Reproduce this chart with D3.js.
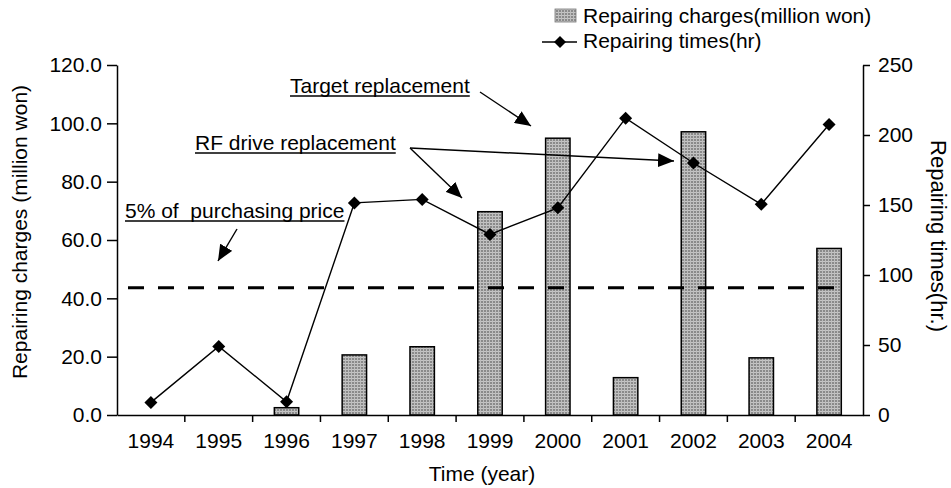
<!DOCTYPE html>
<html>
<head>
<meta charset="utf-8">
<script src="https://cdn.jsdelivr.net/npm/d3@7/dist/d3.min.js"></script>
<style>
  html, body { margin: 0; padding: 0; background: #fff; }
  svg { display: block; font-family: "Liberation Sans", Arial, sans-serif; }
</style>
</head>
<body>
<svg id="chart" width="951" height="488"></svg>
<script>
// ---------- data ----------
const categories = ["1994","1995","1996","1997","1998","1999","2000","2001","2002","2003","2004"];
const repairCharges = [0, 0, 2.5, 20.6, 23.4, 69.7, 94.9, 12.8, 97.1, 19.6, 57.1];   // million won (left axis)
const repairTimes   = [9, 49, 9.5, 151.5, 154, 129, 148, 212, 180, 150.5, 207.5];   // hr (right axis)
const leftTicks  = [0, 20, 40, 60, 80, 100, 120];
const rightTicks = [0, 50, 100, 150, 200, 250];
const purchaseThreshold = 43.6;   // 5% of purchasing price (million won)
const legendLabels = ["Repairing charges(million won)", "Repairing times(hr)"];

// ---------- layout ----------
const W = 951, H = 488;
const m = { l: 117, r: 863, t: 65, b: 415 };
const FS = 21;
const svg = d3.select("#chart");

const defs = svg.append("defs");
const pat = defs.append("pattern").attr("id", "tex").attr("patternUnits", "userSpaceOnUse")
  .attr("width", 3).attr("height", 3);
pat.append("rect").attr("width", 3).attr("height", 3).attr("fill", "#8a8a8a");
pat.append("rect").attr("width", 3).attr("height", 1).attr("fill", "#c6c6c6");
pat.append("rect").attr("width", 1).attr("height", 3).attr("fill", "#bdbdbd");

defs.append("marker").attr("id", "arr").attr("markerUnits", "userSpaceOnUse")
  .attr("viewBox", "0 0 16 14").attr("refX", 16).attr("refY", 7)
  .attr("markerWidth", 16).attr("markerHeight", 14).attr("orient", "auto")
  .append("path").attr("d", "M0,0 L16,7 L0,14 Z").attr("fill", "#000");

const x = d3.scaleBand().domain(categories).range([m.l, m.r]).padding(0);
const bw = x.bandwidth();
const yL = d3.scaleLinear().domain([0, 120]).range([m.b, m.t]);
const yR = d3.scaleLinear().domain([0, 250]).range([m.b, m.t]);
const barW = bw * 0.36;

// ---------- bars ----------
svg.append("g").selectAll("rect")
  .data(categories.map((c, i) => ({ c, v: repairCharges[i] })).filter(d => d.v > 0))
  .join("rect")
  .attr("x", d => x(d.c) + bw / 2 - barW / 2)
  .attr("y", d => yL(d.v))
  .attr("width", barW)
  .attr("height", d => yL(0) - yL(d.v))
  .attr("fill", "url(#tex)")
  .attr("stroke", "#000").attr("stroke-width", 1.5);

// ---------- dashed threshold ----------
svg.append("line")
  .attr("x1", m.l + 11).attr("x2", m.r - 25)
  .attr("y1", yL(purchaseThreshold)).attr("y2", yL(purchaseThreshold))
  .attr("stroke", "#000").attr("stroke-width", 3).attr("stroke-dasharray", "16,14");

// ---------- axes ----------
const axL = svg.append("g").attr("transform", `translate(${m.l},0)`)
  .call(d3.axisLeft(yL).tickValues(leftTicks).tickFormat(d3.format(".1f")).tickSize(10).tickSizeOuter(0).tickPadding(5));
const axR = svg.append("g").attr("transform", `translate(${m.r},0)`)
  .call(d3.axisRight(yR).tickValues(rightTicks).tickSize(7).tickSizeOuter(0).tickPadding(8));
const axB = svg.append("g").attr("transform", `translate(0,${m.b})`)
  .call(d3.axisBottom(x).tickSize(0).tickPadding(18));
[axL, axR, axB].forEach(g => {
  g.selectAll("text").attr("font-size", FS).attr("font-family", "Liberation Sans, Arial, sans-serif").attr("fill", "#000");
  g.selectAll("line,path").attr("stroke", "#000").attr("stroke-width", 1.5);
});
// category boundary ticks
svg.append("g").selectAll("line").data(categories.slice(1)).join("line")
  .attr("x1", d => x(d)).attr("x2", d => x(d))
  .attr("y1", m.b).attr("y2", m.b + 7)
  .attr("stroke", "#000").attr("stroke-width", 1.5);

// ---------- line + diamonds ----------
const pts = categories.map((c, i) => [x(c) + bw / 2, yR(repairTimes[i])]);
svg.append("path").attr("d", d3.line()(pts)).attr("fill", "none").attr("stroke", "#000").attr("stroke-width", 1.4);
const diamond = s => `M0,${-s} L${s},0 L0,${s} L${-s},0 Z`;
svg.append("g").selectAll("path").data(pts).join("path")
  .attr("d", diamond(6.5)).attr("transform", d => `translate(${d[0]},${d[1]})`).attr("fill", "#000");

// ---------- axis titles ----------
svg.append("text").attr("x", 482).attr("y", 481).attr("text-anchor", "middle")
  .attr("font-size", FS).text("Time (year)");
svg.append("text").attr("transform", "translate(27,232) rotate(-90)").attr("text-anchor", "middle")
  .attr("font-size", FS).text("Repairing charges (million won)");
svg.append("text").attr("transform", "translate(931,236) rotate(90)").attr("text-anchor", "middle")
  .attr("font-size", 22).text("Repairing times(hr.)");

// ---------- legend ----------
const lg = svg.append("g");
lg.append("rect").attr("x", 555).attr("y", 9).attr("width", 21).attr("height", 13)
  .attr("fill", "url(#tex)").attr("stroke", "#777").attr("stroke-width", 0.8);
lg.append("text").attr("x", 583).attr("y", 23).attr("font-size", FS).text(legendLabels[0]);
lg.append("line").attr("x1", 542).attr("x2", 577).attr("y1", 42).attr("y2", 42).attr("stroke", "#000").attr("stroke-width", 1.5);
lg.append("path").attr("d", diamond(6)).attr("transform", "translate(560,42)").attr("fill", "#000");
lg.append("text").attr("x", 583).attr("y", 48).attr("font-size", FS).text(legendLabels[1]);

// ---------- annotations ----------
function note(txt, xx, yy) {
  const t = svg.append("text").attr("x", xx).attr("y", yy).attr("font-size", FS)
    .attr("xml:space", "preserve").style("white-space", "pre").text(txt);
  const w = t.node().getComputedTextLength();
  svg.append("line").attr("x1", xx).attr("x2", xx + w).attr("y1", yy + 3).attr("y2", yy + 3)
    .attr("stroke", "#000").attr("stroke-width", 1.3);
}
function arrow(x1, y1, x2, y2) {
  svg.append("line").attr("x1", x1).attr("y1", y1).attr("x2", x2).attr("y2", y2)
    .attr("stroke", "#000").attr("stroke-width", 1.4).attr("marker-end", "url(#arr)");
}
note("Target replacement", 290, 93);
arrow(480, 92, 531, 126);
note("RF drive replacement", 195, 150);
arrow(410, 148, 462, 198);
arrow(410, 148, 674, 161);
note("5% of  purchasing price", 125, 218);
arrow(237, 229, 218, 261);
</script>
</body>
</html>
